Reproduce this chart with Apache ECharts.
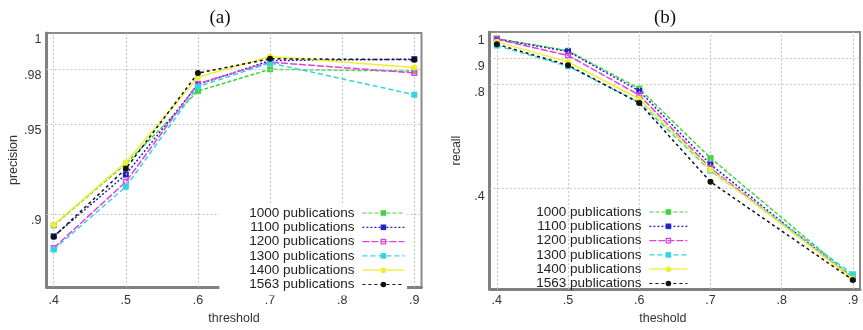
<!DOCTYPE html>
<html>
<head>
<meta charset="utf-8">
<script src="https://cdn.jsdelivr.net/npm/echarts@6/dist/echarts.min.js"></script>
<style>html,body{margin:0;padding:0;background:#fff}#c{width:863px;height:330px}</style>
</head>
<body>
<div id="c"></div>
<script>
// ---- data ----
var thresholds = [0.4, 0.5, 0.6, 0.7, 0.9];
var seriesNames = ['1000 publications', '1100 publications', '1200 publications', '1300 publications', '1400 publications', '1563 publications'];
var precision1000 = [0.894, 0.928, 0.968, 0.980, 0.979];
var precision1100 = [0.888, 0.922, 0.9716, 0.9848, 0.9856];
var precision1200 = [0.8815, 0.918, 0.9721, 0.9839, 0.978];
var precision1300 = [0.8807, 0.9153, 0.9704, 0.9835, 0.966];
var precision1400 = [0.8943, 0.9287, 0.9756, 0.987, 0.981];
var precision1563 = [0.8877, 0.9252, 0.9779, 0.9858, 0.9853];
var recall1000 = [0.975, 0.928, 0.782, 0.515, 0.055];
var recall1100 = [0.973, 0.925, 0.773, 0.490, 0.050];
var recall1200 = [0.972, 0.910, 0.757, 0.476, 0.050];
var recall1300 = [0.948, 0.868, 0.729, 0.466, 0.067];
var recall1400 = [0.962, 0.885, 0.742, 0.470, 0.050];
var recall1563 = [0.953, 0.872, 0.727, 0.423, 0.045];
var xTicks = [0.4, 0.5, 0.6, 0.7, 0.8, 0.9];
var precisionTicks = [0.9, 0.95, 0.98, 1];
var recallTicks = [0.4, 0.8, 0.9, 1];

var precisionSets = [precision1000, precision1100, precision1200, precision1300, precision1400, precision1563];
var recallSets = [recall1000, recall1100, recall1200, recall1300, recall1400, recall1563];

// ---- styles ----
var hollowSquare = 'path://M0,0H10V10H0Z M2.2,2.2V7.8H7.8V2.2Z';
var styles = [
  {color: '#3fd43f', dash: [4, 2], symbol: 'rect'},
  {color: '#2323c8', dash: [2, 2], symbol: 'rect'},
  {color: '#e040e0', dash: [7, 2], symbol: hollowSquare},
  {color: '#2fd6df', dash: [5, 3], symbol: 'rect'},
  {color: '#eeee33', dash: 'solid', symbol: 'circle'},
  {color: '#111111', dash: [3, 3], symbol: 'circle'}
];

function fmtTick(list) {
  return function (v) {
    for (var i = 0; i < list.length; i++) {
      if (Math.abs(v - list[i]) < 1e-6) {
        return String(list[i]).replace(/^0/, '');
      }
    }
    return '';
  };
}

function pairs(ys) {
  return thresholds.map(function (x, i) { return [x, ys[i]]; });
}

var gridLine = {color: '#c4c4c4', width: 1, type: [2, 2]};
var labelFont = {fontFamily: 'Liberation Sans', fontSize: 12.5, color: '#333'};

function gridSeries(idx, yVals) {
  var d = xTicks.map(function (x) { return {xAxis: x}; });
  yVals.forEach(function (y) { if (y < 1) d.push({yAxis: y}); });
  return {
    type: 'line', name: 'grid' + idx, data: [], xAxisIndex: idx, yAxisIndex: idx,
    silent: true, z: 1,
    markLine: {silent: true, symbol: ['none', 'none'], label: {show: false}, lineStyle: gridLine, data: d, animation: false}
  };
}

var series = [gridSeries(0, precisionTicks), gridSeries(1, recallTicks)];
[precisionSets, recallSets].forEach(function (sets, p) {
  sets.forEach(function (ys, i) {
    var st = styles[i];
    series.push({
      type: 'line', name: seriesNames[i], xAxisIndex: p, yAxisIndex: p,
      data: pairs(ys), symbol: st.symbol, symbolSize: 6, z: 3 + i,
      lineStyle: {color: st.color, width: 1.5, type: st.dash},
      itemStyle: {color: st.color, borderWidth: 0},
      emphasis: {disabled: true},
      animation: false
    });
  });
});

function xAxisCfg(idx, name, gap, pad) {
  return {
    type: 'value', gridIndex: idx, min: 0.39, max: 0.91, interval: 0.01,
    name: name, nameLocation: 'middle', nameGap: gap,
    nameTextStyle: {fontFamily: 'Liberation Sans', fontSize: 12.5, color: '#333', padding: pad},
    axisLine: {show: true, lineStyle: {color: '#808080', width: 3}},
    axisTick: {show: false}, splitLine: {show: false},
    axisLabel: Object.assign({formatter: fmtTick(xTicks), margin: idx === 0 ? 7 : 5, hideOverlap: false}, labelFont)
  };
}
function yAxisCfg(idx, min, ticks, name, gap, pad) {
  return {
    type: 'value', gridIndex: idx, min: min, max: 1, interval: 0.01,
    name: name, nameLocation: 'middle', nameGap: gap, nameRotate: 90,
    nameTextStyle: {fontFamily: 'Liberation Sans', fontSize: 12.5, color: '#333', padding: pad},
    axisLine: {show: true, lineStyle: {color: '#808080', width: 3}},
    axisTick: {show: false}, splitLine: {show: false},
    axisLabel: Object.assign({formatter: fmtTick(ticks), margin: 5, verticalAlign: 'top', padding: idx === 0 ? [0, 0, 0, 0] : [2, 0, 0, 0], hideOverlap: false}, labelFont)
  };
}

var legendText = {fontFamily: 'Liberation Sans', fontSize: 13.5, color: '#222', lineHeight: 14, padding: [0, 3, 0, 0]};
var legendLine = {width: 1.2};

var option = {
  backgroundColor: '#fff',
  animation: false,
  title: [
    {text: '(a)', left: 215, top: 4, textAlign: 'center', textStyle: {fontFamily: 'Liberation Serif', fontSize: 19, fontWeight: 'normal', color: '#111'}},
    {text: '(b)', left: 660, top: 4, textAlign: 'center', textStyle: {fontFamily: 'Liberation Serif', fontSize: 19, fontWeight: 'normal', color: '#111'}}
  ],
  grid: [
    {left: 46.5, top: 33, width: 375, height: 262, show: true, borderColor: '#8a8a8a', borderWidth: 2, backgroundColor: 'transparent'},
    {left: 489.7, top: 32, width: 378.6, height: 261, show: true, borderColor: '#8a8a8a', borderWidth: 2, backgroundColor: 'transparent'}
  ],
  xAxis: [xAxisCfg(0, 'threshold', 21, [0, 0, 0, 0]), xAxisCfg(1, 'theshold', 20, [0, 24, 0, 0])],
  yAxis: [yAxisCfg(0, 0.86, precisionTicks, 'precision', 24, [0, 0, 0, 0]), yAxisCfg(1, 0.01, recallTicks, 'recall', 27, [0, 0, 0, 20])],
  legend: [
    {data: seriesNames, orient: 'vertical', align: 'right', right: 863 - 407, top: 204, itemWidth: 42, itemHeight: 7, itemGap: 0.3,
     padding: [2, 2, 4, 30], backgroundColor: '#fff', textStyle: legendText, lineStyle: legendLine, selectedMode: false, z: 10},
    {data: seriesNames, orient: 'vertical', align: 'right', right: 863 - 690, top: 203, itemWidth: 38, itemHeight: 7, itemGap: 0.3,
     padding: [2, 2, 2, 2], textStyle: legendText, lineStyle: legendLine, selectedMode: false, z: 10}
  ],
  series: series
};

var chart = echarts.init(document.getElementById('c'), null, {renderer: 'canvas'});
chart.setOption(option);
</script>
</body>
</html>
